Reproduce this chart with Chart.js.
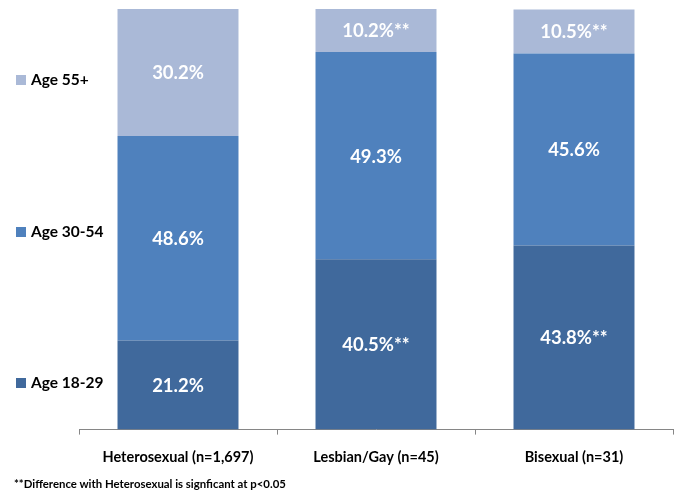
<!DOCTYPE html>
<html>
<head>
<meta charset="utf-8">
<script src="https://cdn.jsdelivr.net/npm/chart.js@4/dist/chart.umd.min.js"></script>
<style>
  html, body { margin: 0; padding: 0; background: #fff; }
  #wrap { position: relative; width: 678px; height: 493px; }
  #note { position: absolute; left: 14px; top: 477px; font: bold 11.4px Lato, "Open Sans", sans-serif; color: #000; white-space: nowrap; }
</style>
</head>
<body>
<div id="wrap">
  <canvas id="c" width="678" height="493"></canvas>
  <div id="note">**Difference with Heterosexual is signficant at p&lt;0.05</div>
</div>
<script>
// ---- data ----
const categories = ["Heterosexual (n=1,697)", "Lesbian/Gay (n=45)", "Bisexual (n=31)"];
const seriesNames = ["Age 18-29", "Age 30-54", "Age 55+"];
const age18to29 = [21.2, 40.5, 43.8];
const age30to54 = [48.6, 49.3, 45.6];
const age55plus = [30.2, 10.2, 10.5];
const sig18to29 = ["", "**", "**"];
const sig30to54 = ["", "", ""];
const sig55plus = ["", "**", "**"];
const seriesColors = ["#40699C", "#4F81BD", "#AAB9D7"];

const FONT = "Lato, 'Open Sans', sans-serif";

const datasets = [age18to29, age30to54, age55plus].map((vals, i) => ({
  label: seriesNames[i],
  data: vals,
  backgroundColor: seriesColors[i],
  borderWidth: 0,
  categoryPercentage: 1,
  barPercentage: 0.611,
  sig: [sig18to29, sig30to54, sig55plus][i]
}));

const valueLabels = {
  id: 'valueLabels',
  afterDatasetsDraw(chart) {
    const ctx = chart.ctx;
    ctx.save();
    ctx.fillStyle = '#fff';
    ctx.font = "bold 18.5px " + FONT;
    ctx.textAlign = 'center';
    ctx.textBaseline = 'middle';
    chart.data.datasets.forEach((ds, di) => {
      chart.getDatasetMeta(di).data.forEach((el, i) => {
        const p = el.getProps(['x', 'y', 'base'], true);
        ctx.fillText(ds.data[i].toFixed(1) + '%' + ds.sig[i], p.x, (p.y + p.base) / 2 + 1);
      });
    });
    ctx.restore();
  }
};

const sideLegend = {
  id: 'sideLegend',
  afterDraw(chart) {
    const ctx = chart.ctx;
    const ys = [383, 232, 80];
    ctx.save();
    ctx.font = "bold 15.5px " + FONT;
    ctx.textBaseline = 'middle';
    ctx.textAlign = 'left';
    chart.data.datasets.forEach((ds, i) => {
      ctx.fillStyle = ds.backgroundColor;
      ctx.fillRect(16, ys[i] - 5, 10, 10);
      ctx.fillStyle = '#000';
      ctx.fillText(ds.label, 31, ys[i]);
    });
    ctx.restore();
  }
};

new Chart(document.getElementById('c'), {
  type: 'bar',
  data: { labels: categories, datasets },
  options: {
    responsive: false,
    animation: false,
    layout: { padding: { left: 79, right: 5, top: 9, bottom: 13 } },
    plugins: { legend: { display: false }, tooltip: { enabled: false } },
    scales: {
      x: {
        stacked: true,
        grid: { drawOnChartArea: false, tickLength: 5, color: '#868686', offset: true },
        border: { color: '#868686', width: 1 },
        ticks: { color: '#000', font: { family: FONT, size: 14.5, weight: 'bold' }, padding: 14 }
      },
      y: { stacked: true, display: false, min: 0, max: 100 }
    }
  },
  plugins: [valueLabels, sideLegend]
});
</script>
</body>
</html>
